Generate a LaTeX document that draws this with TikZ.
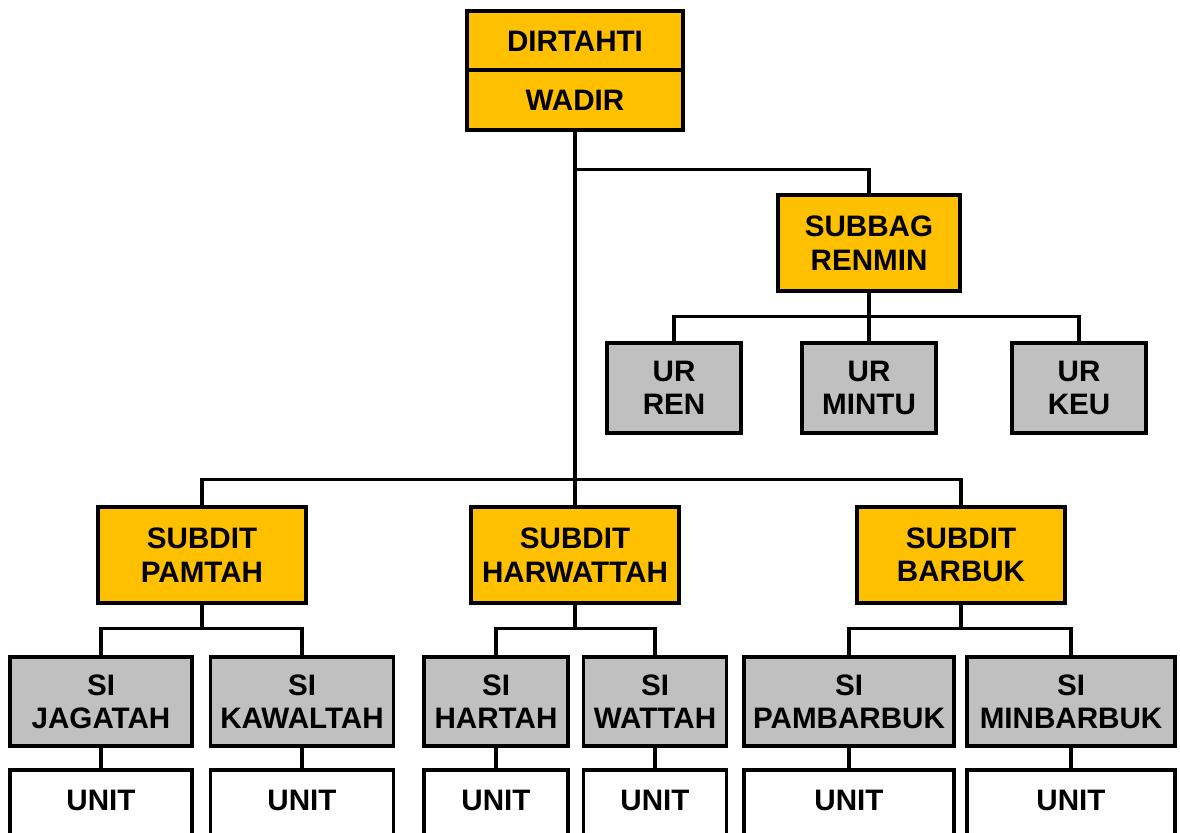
\documentclass[tikz,border=0pt]{standalone}
\usepackage{fontspec}
\setmainfont{Liberation Sans}
\definecolor{chiefgold}{HTML}{FFC000}
\definecolor{staffgray}{HTML}{C0C0C0}
\tikzset{
  box/.style={draw, line width=2.6pt, rectangle, inner sep=0pt, align=center,
    font=\fontsize{22.2}{25}\selectfont\bfseries},
  chief/.style={box, fill=chiefgold},
  staff/.style={box, fill=staffgray},
  unitbox/.style={box, fill=white, minimum height=60pt, text depth=15pt},
  link/.style={line width=2.5pt}
}
\begin{document}
\begin{tikzpicture}[x=0.75pt, y=-0.75pt]
      \useasboundingbox (0,0) rectangle (1180,832);
      \node[chief, minimum width=162pt, minimum height=45pt] (dirtahti) at (575,41) {DIRTAHTI};
      \node[chief, minimum width=162pt, minimum height=45pt] (wadir) at (575,100) {WADIR};
      \node[chief, minimum width=136.5pt, minimum height=72pt] (subbag) at (869,243) {SUBBAG\\RENMIN};
      \node[staff, minimum width=100.5pt, minimum height=67.5pt] (urren) at (674,388) {UR\\REN};
      \node[staff, minimum width=100.5pt, minimum height=67.5pt] (urmintu) at (869,388) {UR\\MINTU};
      \node[staff, minimum width=100.5pt, minimum height=67.5pt] (urkeu) at (1079,388) {UR\\KEU};
      \node[chief, minimum width=156pt, minimum height=72pt] (pamtah) at (202,555) {SUBDIT\\PAMTAH};
      \node[chief, minimum width=156pt, minimum height=72pt] (harwattah) at (575,555) {SUBDIT\\HARWATTAH};
      \node[chief, minimum width=156pt, minimum height=72pt] (barbuk) at (961,555) {SUBDIT\\BARBUK};
      \node[staff, minimum width=136.5pt, minimum height=66.75pt] (jagatah) at (101,701.5) {SI\\JAGATAH};
      \node[staff, minimum width=137pt, minimum height=66.75pt] (kawaltah) at (302,701.5) {SI\\KAWALTAH};
      \node[staff, minimum width=108pt, minimum height=66.75pt] (hartah) at (496,701.5) {SI\\HARTAH};
      \node[staff, minimum width=107pt, minimum height=66.75pt] (wattah) at (655,701.5) {SI\\WATTAH};
      \node[staff, minimum width=157.5pt, minimum height=66.75pt] (pambarbuk) at (849,701.5) {SI\\PAMBARBUK};
      \node[staff, minimum width=156pt, minimum height=66.75pt] (minbarbuk) at (1071,701.5) {SI\\MINBARBUK};
      \node[unitbox, minimum width=136.5pt] (unitjagatah) at (101,810) {UNIT};
      \node[unitbox, minimum width=137pt] (unitkawaltah) at (302,810) {UNIT};
      \node[unitbox, minimum width=108pt] (unithartah) at (496,810) {UNIT};
      \node[unitbox, minimum width=107pt] (unitwattah) at (655,810) {UNIT};
      \node[unitbox, minimum width=157.5pt] (unitpambarbuk) at (849,810) {UNIT};
      \node[unitbox, minimum width=156pt] (unitminbarbuk) at (1071,810) {UNIT};
      \begin{scope}[link]
        \draw (wadir.south) -- (harwattah.north);
        \draw (wadir.south) ++(0,38) -| (subbag.north);
        \draw (subbag.south) -- (urmintu.north);
        \draw (urren.north) -- ++(0,-25) -| (urkeu.north);
        \draw (pamtah.north) -- ++(0,-26) -| (barbuk.north);
        \draw (pamtah.south) -- ++(0,24);
        \draw (jagatah.north) -- ++(0,-27) -| (kawaltah.north);
        \draw (harwattah.south) -- ++(0,24);
        \draw (hartah.north) -- ++(0,-27) -| (wattah.north);
        \draw (barbuk.south) -- ++(0,24);
        \draw (pambarbuk.north) -- ++(0,-27) -| (minbarbuk.north);
        \draw (jagatah.south) -- (unitjagatah.north);
        \draw (kawaltah.south) -- (unitkawaltah.north);
        \draw (hartah.south) -- (unithartah.north);
        \draw (wattah.south) -- (unitwattah.north);
        \draw (pambarbuk.south) -- (unitpambarbuk.north);
        \draw (minbarbuk.south) -- (unitminbarbuk.north);
      \end{scope}
    \end{tikzpicture}
\end{document}
